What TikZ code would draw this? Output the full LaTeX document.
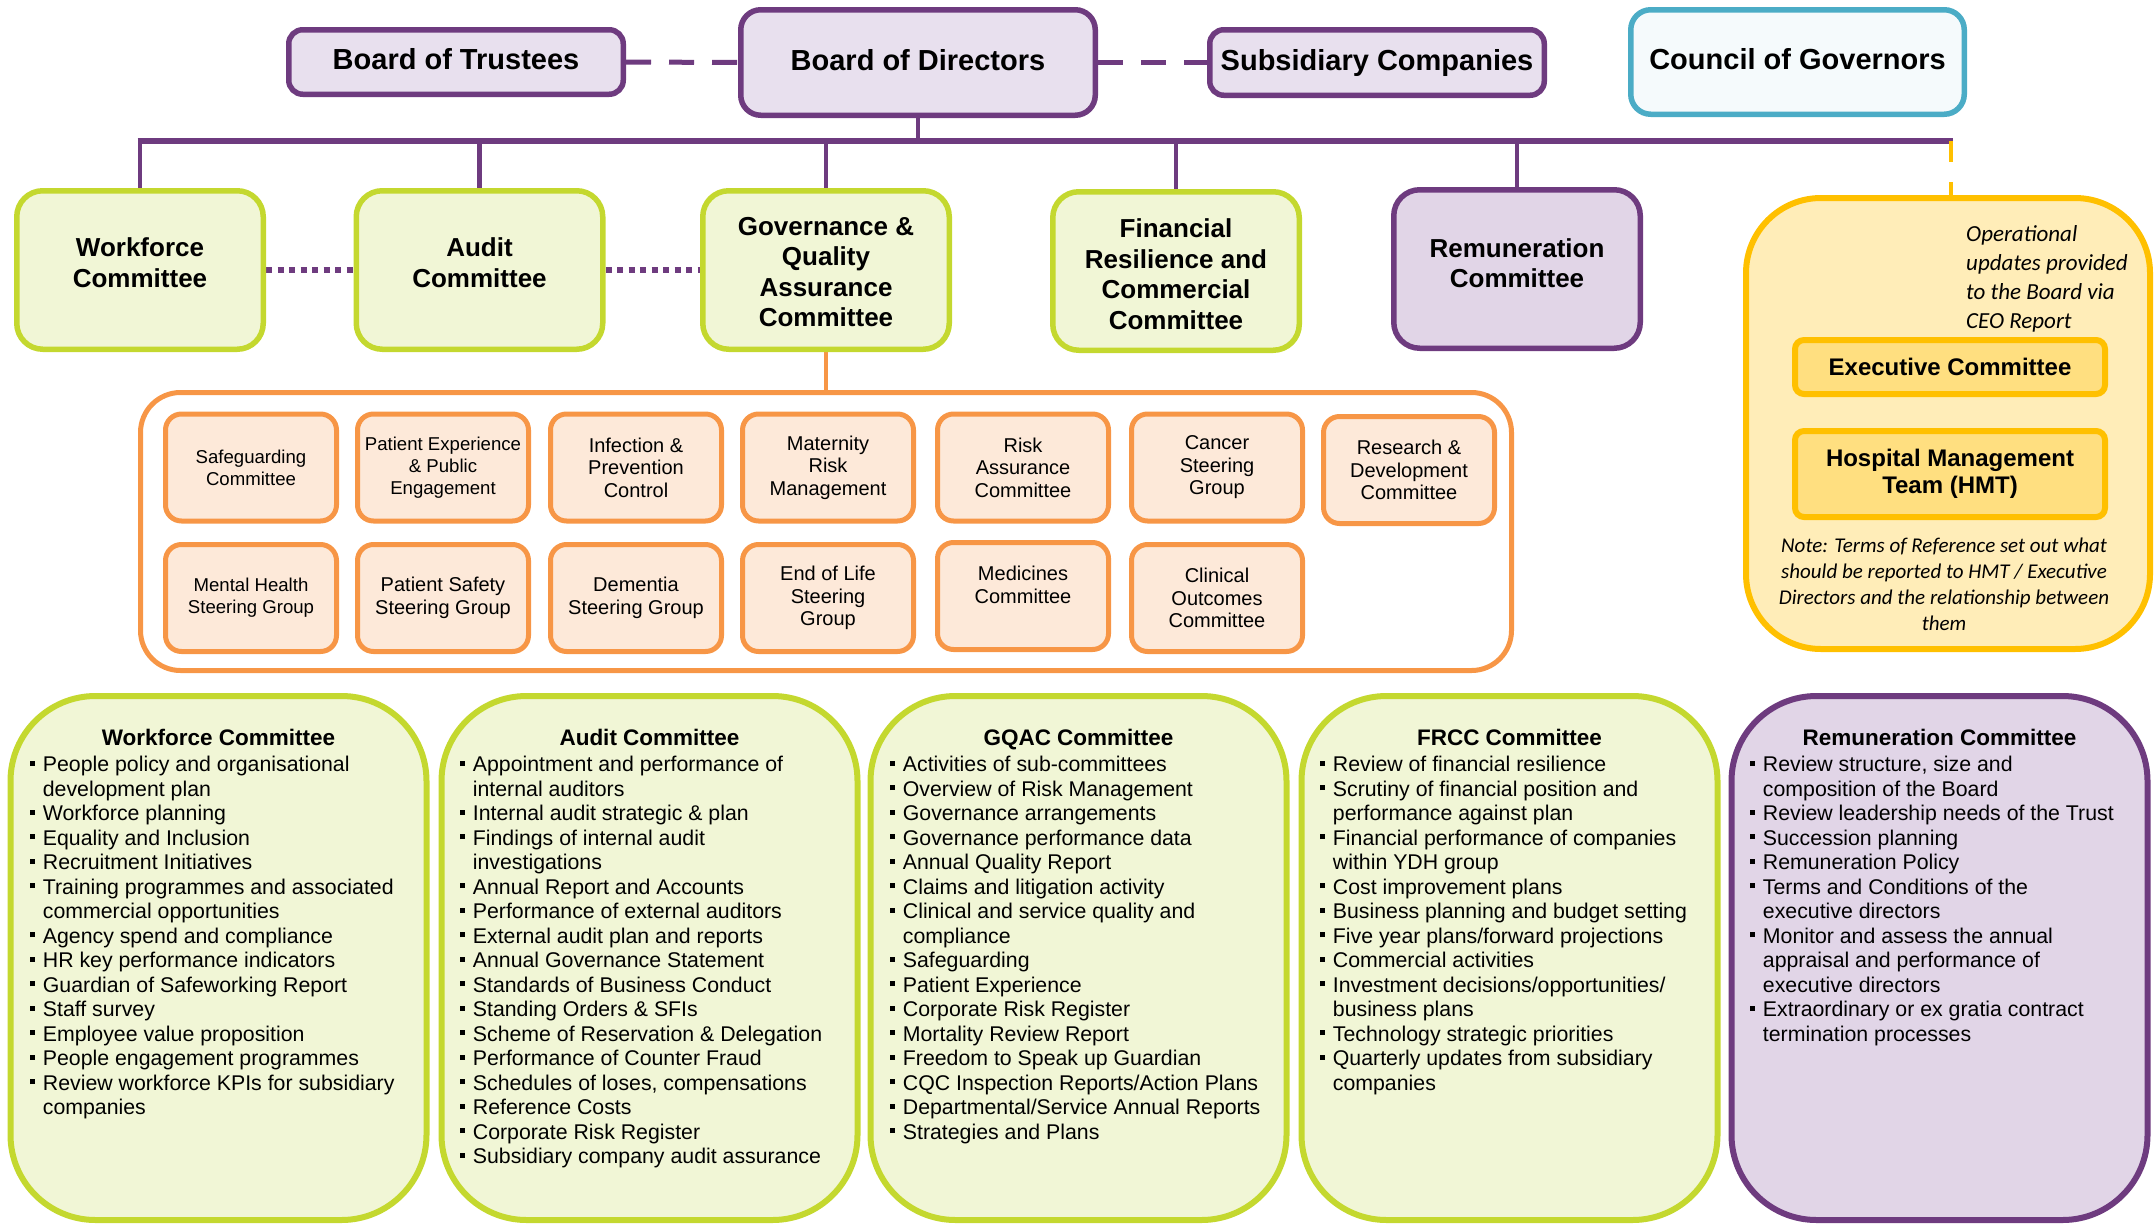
\documentclass[tikz,border=0pt]{standalone}
\usepackage{fontspec}
\setmainfont{Liberation Sans}
\newfontfamily\carl{Carlito}
\usetikzlibrary{backgrounds}
\definecolor{pur}{HTML}{6E3B7F}
\definecolor{lav}{HTML}{E8E0EE}
\definecolor{lavd}{HTML}{E1D5E7}
\definecolor{grn}{HTML}{C4D82F}
\definecolor{grnf}{HTML}{F1F6D6}
\definecolor{org}{HTML}{F79646}
\definecolor{orgf}{HTML}{FDE9D9}
\definecolor{blu}{HTML}{4BACC6}
\definecolor{bluf}{HTML}{F5FAFC}
\definecolor{yel}{HTML}{FFC000}
\definecolor{yelf}{HTML}{FFEDB8}
\definecolor{yelf2}{HTML}{FFDF80}
\newcommand{\bl}{\leavevmode\llap{\rule[6pt]{5pt}{5pt}\hspace{7.7pt}}}
\newcommand{\blist}[1]{\parbox[t]{400pt}{\raggedright\fontsize{21.3}{24.5}\selectfont #1}}
\begin{document}
\begin{tikzpicture}[x=1pt,y=-1pt,
  topbox/.style={draw=pur,fill=lav,line width=5.5pt,rounded corners=14pt,inner sep=0pt,align=center,text height=21pt,text depth=6pt,font=\bfseries\fontsize{29}{34}\selectfont},
  combox/.style={draw=grn,fill=grnf,line width=5.5pt,rounded corners=26pt,minimum width=246.5pt,minimum height=158.5pt,inner sep=0pt},
  comtext/.style={align=center,inner sep=0pt,font=\bfseries\fontsize{26}{30.5}\selectfont},
  subbox/.style={draw=org,fill=orgf,line width=5pt,rounded corners=16pt,minimum width=171pt,minimum height=107pt,inner sep=0pt,align=center,font=\fontsize{20}{22.5}\selectfont},
  subsmall/.style={font=\fontsize{18.6}{22}\selectfont},
  bigbox/.style={line width=6pt,rounded corners=85pt,minimum width=416pt,minimum height=524pt,inner sep=0pt},
  ttl/.style={anchor=base,inner sep=0pt,font=\bfseries\fontsize{22.5}{26}\selectfont},
  lst/.style={anchor=base west,inner sep=0pt},
  drop/.style={draw=pur,line width=4.5pt},
  dotlink/.style={draw=pur,line width=6pt,dash pattern=on 6pt off 5.5pt},
  dashlink/.style={draw=pur,line width=5pt,dash pattern=on 25pt off 18pt},
  yelbox/.style={draw=yel,fill=yelf2,line width=6pt,rounded corners=9pt,minimum width=310pt,inner sep=0pt,align=center,font=\bfseries\fontsize{24}{27}\selectfont}
]
\useasboundingbox (0,0) rectangle (2154,1226);

% top row
\node[topbox,minimum width=334.5pt,minimum height=64.5pt] (bot) at (456,62) {Board of Trustees};
\node[topbox,minimum width=354.5pt,minimum height=105.5pt,rounded corners=20pt] (bod) at (918,62.5) {Board of Directors};
\node[topbox,minimum width=334.5pt,minimum height=65.5pt] (sub) at (1377,62.5) {Subsidiary Companies};
\node[topbox,draw=blu,fill=bluf,minimum width=333.5pt,minimum height=104.5pt,rounded corners=20pt] (cog) at (1797.5,62) {Council of Governors};

% committees
\node[combox] (wc) at (140,270) {};
\node[combox] (ac) at (479.5,270) {};
\node[combox] (gc) at (826,270) {};
\node[combox] (fc) at (1176,271) {};
\node[combox,draw=pur,fill=lavd] (rc) at (1517,269) {};
\node[comtext] (wct) at (140,262.5) {Workforce\\Committee};
\node[comtext] (act) at (479.5,262.5) {Audit\\Committee};
\node[comtext] (gct) at (826,272) {Governance \&\\Quality\\Assurance\\Committee};
\node[comtext] (fct) at (1176,274) {Financial\\Resilience and\\Commercial\\Committee};
\node[comtext] (rct) at (1517,263) {Remuneration\\Committee};

% orange group
\node[draw=org,line width=5pt,rounded corners=40pt,minimum width=1371pt,minimum height=278pt,inner sep=0pt] (obox) at (826,531.5) {};
\node[subbox,subsmall] (s1) at (251,467.5) {Safeguarding\\Committee};
\node[subbox,subsmall] (s2) at (443,467.5) {Patient Experience\\\& Public\\Engagement};
\node[subbox] (s3) at (636,467.5) {Infection \&\\Prevention\\Control};
\node[subbox] (s4) at (828,467.5) {Maternity\\Risk\\Management};
\node[subbox] (s5) at (1023,467.5) {Risk\\Assurance\\Committee};
\node[subbox] (s6) at (1217,467.5) {Cancer\\Steering\\Group};
\node[subbox] (s7) at (1409,470) {Research \&\\Development\\Committee};
\node[subbox,subsmall] (t1) at (251,598) {Mental Health\\Steering Group};
\node[subbox] (t2) at (443,598) {Patient Safety\\Steering Group};
\node[subbox] (t3) at (636,598) {Dementia\\Steering Group};
\node[subbox] (t4) at (828,598) {End of Life\\Steering\\Group};
\node[subbox] (t5) at (1023,596) {Medicines\\Committee\\\mbox{}};
\node[subbox] (t6) at (1217,598) {Clinical\\Outcomes\\Committee};

% yellow group
\node[draw=yel,fill=yelf,line width=6pt,rounded corners=75pt,minimum width=404pt,minimum height=451pt,inner sep=0pt] (ybox) at (1948,423.5) {};
\node[yelbox,minimum height=54pt] (exec) at (1950,367) {Executive Committee};
\node[yelbox,minimum height=86pt] (hmt) at (1950,474) {Hospital Management\\Team (HMT)};
\node[anchor=base west,inner sep=0pt] (opn) at (1966,241) {\parbox[t]{200pt}{\raggedright\carl\itshape\fontsize{23}{29.3}\selectfont Operational\\updates provided\\to the Board via\\CEO Report}};
\node[anchor=base,inner sep=0pt] (note) at (1944,552) {\parbox[t]{400pt}{\centering\carl\itshape\fontsize{21}{26}\selectfont Note: Terms of Reference set out what\\should be reported to HMT / Executive\\Directors and the relationship between\\them}};

% bottom boxes
\node[bigbox,draw=grn,fill=grnf] (bw) at (218.5,958) {};
\node[bigbox,draw=grn,fill=grnf] (ba) at (649.5,958) {};
\node[bigbox,draw=grn,fill=grnf] (bg) at (1078.5,958) {};
\node[bigbox,draw=grn,fill=grnf] (bf) at (1509.5,958) {};
\node[bigbox,draw=pur,fill=lavd] (br) at (1939.5,958) {};

\node[ttl] (bwt) at (218.5,745) {Workforce Committee};
\node[ttl] (bat) at (649.5,745) {Audit Committee};
\node[ttl] (bgt) at (1078.5,745) {GQAC Committee};
\node[ttl] (bft) at (1509.5,745) {FRCC Committee};
\node[ttl] (brt) at (1939.5,745) {Remuneration Committee};

\node[lst] (bwl) at (42.7,771.5) {\blist{\bl People policy and organisational\\development plan\\\bl Workforce planning\\\bl Equality and Inclusion\\\bl Recruitment Initiatives\\\bl Training programmes and associated\\commercial opportunities\\\bl Agency spend and compliance\\\bl HR key performance indicators\\\bl Guardian of Safeworking Report\\\bl Staff survey\\\bl Employee value proposition\\\bl People engagement programmes\\\bl Review workforce KPIs for subsidiary\\companies}};
\node[lst] (bal) at (472.7,771.5) {\blist{\bl Appointment and performance of\\internal auditors\\\bl Internal audit strategic \& plan\\\bl Findings of internal audit\\investigations\\\bl Annual Report and Accounts\\\bl Performance of external auditors\\\bl External audit plan and reports\\\bl Annual Governance Statement\\\bl Standards of Business Conduct\\\bl Standing Orders \& SFIs\\\bl Scheme of Reservation \& Delegation\\\bl Performance of Counter Fraud\\\bl Schedules of loses, compensations\\\bl Reference Costs\\\bl Corporate Risk Register\\\bl Subsidiary company audit assurance}};
\node[lst] (bgl) at (902.7,771.5) {\blist{\bl Activities of sub-committees\\\bl Overview of Risk Management\\\bl Governance arrangements\\\bl Governance performance data\\\bl Annual Quality Report\\\bl Claims and litigation activity\\\bl Clinical and service quality and\\compliance\\\bl Safeguarding\\\bl Patient Experience\\\bl Corporate Risk Register\\\bl Mortality Review Report\\\bl Freedom to Speak up Guardian\\\bl CQC Inspection Reports/Action Plans\\\bl Departmental/Service Annual Reports\\\bl Strategies and Plans}};
\node[lst] (bfl) at (1332.7,771.5) {\blist{\bl Review of financial resilience\\\bl Scrutiny of financial position and\\performance against plan\\\bl Financial performance of companies\\within YDH group\\\bl Cost improvement plans\\\bl Business planning and budget setting\\\bl Five year plans/forward projections\\\bl Commercial activities\\\bl Investment decisions/opportunities/\\business plans\\\bl Technology strategic priorities\\\bl Quarterly updates from subsidiary\\companies}};
\node[lst] (brl) at (1762.7,771.5) {\blist{\bl Review structure, size and\\composition of the Board\\\bl Review leadership needs of the Trust\\\bl Succession planning\\\bl Remuneration Policy\\\bl Terms and Conditions of the\\executive directors\\\bl Monitor and assess the annual\\appraisal and performance of\\executive directors\\\bl Extraordinary or ex gratia contract\\termination processes}};

% connectors
\coordinate (bL) at (137.7,141);
\coordinate (bR) at (1953,141);
\coordinate (yd) at (1951,141);
\begin{pgfonlayer}{background}
\draw[pur,line width=6pt] (bL) -- (bR);
\draw[drop] (bod.south) -- (bod.south |- bL);
\draw[drop] (wc.north |- bL) -- (wc.north);
\draw[drop] (ac.north |- bL) -- (ac.north);
\draw[drop] (gc.north |- bL) -- (gc.north);
\draw[drop] (fc.north |- bL) -- (fc.north);
\draw[drop] (rc.north |- bL) -- (rc.north);
\draw[yel,line width=4pt,dash pattern=on 21pt off 20pt] (yd) -- (yd |- ybox.north);
\draw[dashlink] (bot.east) -- (bod.west);
\draw[dashlink] (bod.east) -- (sub.west);
\draw[dotlink] (wc.east) -- (ac.west);
\draw[dotlink] (ac.east) -- (gc.west);
\draw[org,line width=4pt] (gc.south) -- (obox.north);
\draw[yel,line width=6pt] (exec.south) -- (hmt.north);
\end{pgfonlayer}
\end{tikzpicture}
\end{document}
